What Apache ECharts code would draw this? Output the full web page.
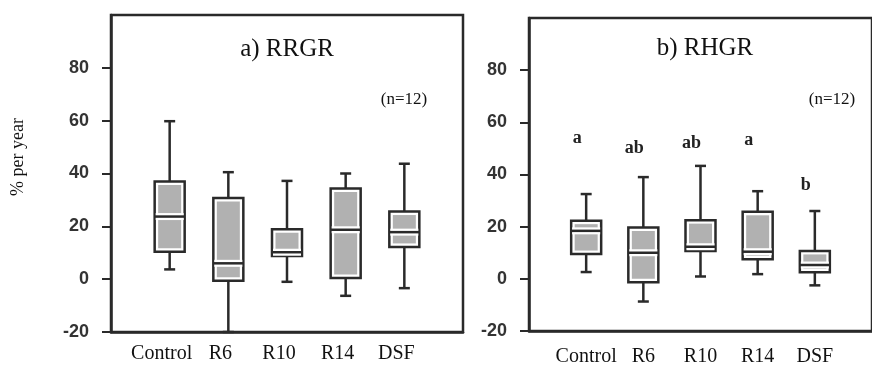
<!DOCTYPE html>
<html>
<head>
<meta charset="utf-8">
<script src="https://cdn.jsdelivr.net/npm/echarts@6/dist/echarts.min.js"></script>
<style>
  html, body { margin: 0; padding: 0; background: #fff; }
  #chart { width: 872px; height: 367px; }
</style>
</head>
<body>
<div id="chart"></div>
<script>
// categories, x position = index + 1
const categories = ["Control", "R6", "R10", "R14", "DSF"];
const yTicks = [-20, 0, 20, 40, 60, 80];

// [min, q1, median, q3, max]
const rrgr = [
  [3.7, 10.4, 23.7, 37.0, 59.8],
  [-20, -0.6, 6.0, 30.7, 40.5],
  [-1.0, 8.8, 10.2, 18.9, 37.2],
  [-6.3, 0.4, 18.7, 34.3, 40.0],
  [-3.4, 12.2, 17.8, 25.6, 43.7]
];
const rhgr = [
  [2.6, 9.5, 18.4, 22.3, 32.5],
  [-8.7, -1.3, 10.0, 19.7, 39.0],
  [0.9, 10.7, 12.3, 22.5, 43.3],
  [1.8, 7.5, 10.4, 25.7, 33.6],
  [-2.5, 2.5, 5.3, 10.7, 26.0]
];

// significance letters (panel b) and the height they sit at
const sigLetters = ["a", "ab", "ab", "a", "b"];
const sigY = [54, 50, 52, 53, 36];

const dark = "#2a2a2a";
const boxGray = "#b1b1b1";

function toRows(arr) {
  return arr.map((d, i) => [i + 1].concat(d));
}

function renderBox(params, api) {
  const x = api.value(0);
  const pMin = api.coord([x, api.value(1)]);
  const pQ1 = api.coord([x, api.value(2)]);
  const pMed = api.coord([x, api.value(3)]);
  const pQ3 = api.coord([x, api.value(4)]);
  const pMax = api.coord([x, api.value(5)]);
  const cx = pMed[0];
  const bw = 30;
  const cap = 11;
  const lw = 2.5;
  const line = (x1, y1, x2, y2, w, c) => ({
    type: "line",
    shape: { x1: x1, y1: y1, x2: x2, y2: y2 },
    style: { stroke: c || dark, lineWidth: w || lw }
  });
  const h = pQ1[1] - pQ3[1];
  return {
    type: "group",
    children: [
      line(cx, pMax[1], cx, pQ3[1]),
      line(cx, pQ1[1], cx, pMin[1]),
      line(cx - cap / 2, pMax[1], cx + cap / 2, pMax[1]),
      line(cx - cap / 2, pMin[1], cx + cap / 2, pMin[1]),
      {
        type: "rect",
        shape: { x: cx - bw / 2, y: pQ3[1], width: bw, height: h },
        style: { fill: "#fff", stroke: dark, lineWidth: lw }
      },
      {
        type: "rect",
        shape: { x: cx - bw / 2 + 3.5, y: pQ3[1] + 3.5, width: bw - 7, height: Math.max(h - 7, 0) },
        style: { fill: boxGray }
      },
      line(cx - bw / 2 + 1, pMed[1], cx + bw / 2 - 1, pMed[1], 7, "#fff"),
      line(cx - bw / 2, pMed[1], cx + bw / 2, pMed[1], lw, dark)
    ]
  };
}

function yAxisOpt(idx) {
  return {
    type: "value",
    gridIndex: idx,
    min: -20,
    max: 100,
    interval: 20,
    axisLine: { show: true, lineStyle: { color: dark, width: 2.5 } },
    axisTick: {
      show: true,
      length: 9,
      customValues: yTicks,
      lineStyle: { color: dark, width: 2 }
    },
    axisLabel: {
      customValues: yTicks,
      margin: 22,
      color: "#333",
      fontFamily: "Liberation Sans",
      fontWeight: "bold",
      fontSize: 18
    },
    splitLine: { show: false }
  };
}

function xAxisOpt(idx, pad) {
  return {
    type: "value",
    gridIndex: idx,
    min: 0,
    max: 6,
    interval: 1,
    axisLine: { show: true, onZero: false, lineStyle: { color: dark, width: 2.5 } },
    axisTick: { show: false },
    axisLabel: {
      customValues: [1, 2, 3, 4, 5],
      formatter: (v) => categories[v - 1] || "",
      margin: 12,
      color: "#111",
      fontFamily: "Liberation Serif",
      fontSize: 20,
      padding: pad
    },
    splitLine: { show: false }
  };
}

const serif = "Liberation Serif";

const option = {
  animation: false,
  grid: [
    { left: 111, top: 15, width: 352, height: 317, show: true, borderColor: dark, borderWidth: 2.5 },
    { left: 529, top: 18, width: 352, height: 314, show: true, borderColor: dark, borderWidth: 2.5 }
  ],
  xAxis: [xAxisOpt(0, [0, 16, 0, 0]), xAxisOpt(1, [4, 0, 0, 0])],
  yAxis: [yAxisOpt(0), yAxisOpt(1)],
  graphic: [
    {
      type: "text", x: 287, y: 49,
      style: { text: "a) RRGR", font: "25px " + serif, fill: "#111", align: "center", verticalAlign: "middle" }
    },
    {
      type: "text", x: 705, y: 48,
      style: { text: "b) RHGR", font: "25px " + serif, fill: "#111", align: "center", verticalAlign: "middle" }
    },
    {
      type: "text", x: 404, y: 100,
      style: { text: "(n=12)", font: "17px " + serif, fill: "#111", align: "center", verticalAlign: "middle" }
    },
    {
      type: "text", x: 832, y: 100,
      style: { text: "(n=12)", font: "17px " + serif, fill: "#111", align: "center", verticalAlign: "middle" }
    },
    {
      type: "text", x: 18, y: 157, rotation: Math.PI / 2,
      style: { text: "% per year", font: "18px " + serif, fill: "#111", align: "center", verticalAlign: "middle" }
    }
  ],
  series: [
    {
      type: "custom",
      xAxisIndex: 0,
      yAxisIndex: 0,
      renderItem: renderBox,
      encode: { x: 0, y: [1, 2, 3, 4, 5] },
      data: toRows(rrgr)
    },
    {
      type: "custom",
      xAxisIndex: 1,
      yAxisIndex: 1,
      renderItem: renderBox,
      encode: { x: 0, y: [1, 2, 3, 4, 5] },
      data: toRows(rhgr)
    },
    {
      type: "scatter",
      xAxisIndex: 1,
      yAxisIndex: 1,
      symbolSize: 0,
      silent: true,
      itemStyle: { opacity: 1 },
      data: sigY.map((v, i) => [i + 1, v]),
      label: {
        show: true,
        position: "inside",
        offset: [-9, 0],
        formatter: (p) => sigLetters[p.dataIndex],
        fontFamily: serif,
        fontWeight: "bold",
        fontSize: 18,
        color: "#222",
        opacity: 1,
        textBorderWidth: 0
      }
    }
  ]
};

const myChart = echarts.init(document.getElementById("chart"));
myChart.setOption(option);
</script>
</body>
</html>
